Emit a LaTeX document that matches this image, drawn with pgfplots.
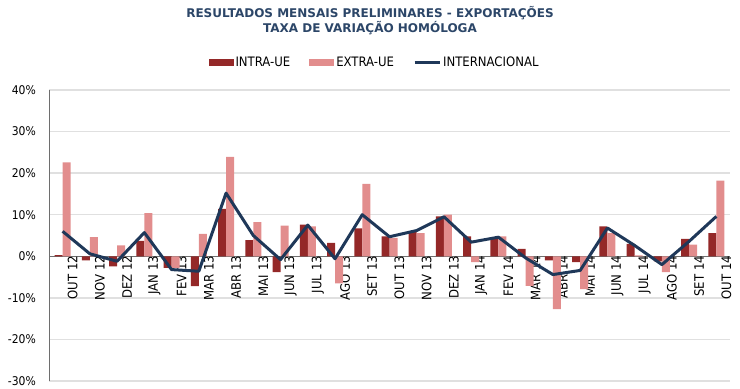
\documentclass[border=0pt]{standalone}
\usepackage{pgfplots}
\pgfplotsset{compat=1.18}
\usepackage{pgfplotstable}
\usepackage{fontspec}
\setmainfont{DejaVu Sans Condensed}
\newfontfamily\titlefont{DejaVu Sans}
\definecolor{intra}{RGB}{148,40,40}
\definecolor{extra}{RGB}{226,141,141}
\definecolor{navy}{RGB}{31,56,89}
\definecolor{titlec}{RGB}{44,70,104}
\definecolor{gridc}{RGB}{224,224,224}
\definecolor{axc}{RGB}{110,110,110}
\pgfplotsset{layers/mine/.define layer set={axis background,axis grid,pre main,main,axis ticks,axis lines,axis tick labels,axis descriptions,axis foreground}{}}
\pgfplotstableread{
x intra extra intl
0 0.3 22.6 6.0
1 -1.0 4.6 0.6
2 -2.4 2.6 -1.2
3 3.7 10.4 5.7
4 -2.8 -2.8 -3.2
5 -7.2 5.4 -3.6
6 11.4 23.9 15.2
7 3.9 8.2 5.0
8 -3.8 7.4 -0.8
9 7.6 7.2 7.5
10 3.2 -6.5 -0.6
11 6.7 17.4 10.0
12 4.8 4.4 4.7
13 6.0 5.6 6.2
14 9.6 10.0 9.5
15 4.8 -1.4 3.4
16 4.6 4.8 4.6
17 1.8 -7.1 -0.4
18 -1.0 -12.7 -4.4
19 -1.4 -7.9 -3.4
20 7.2 5.6 6.8
21 3.0 0.2 2.6
22 -1.2 -3.8 -2.0
23 4.2 2.8 3.6
24 5.6 18.2 9.6
}\data
\begin{document}
\begin{tikzpicture}
\path (0,0) rectangle (740bp,389bp);
\node[font=\titlefont\bfseries\fontsize{12bp}{15bp}\selectfont, text=titlec, align=center] at (370bp,368bp)
  {RESULTADOS MENSAIS PRELIMINARES - EXPORTAÇÕES\\TAXA DE VARIAÇÃO HOMÓLOGA};
\begin{axis}[
  set layers=mine,
  at={(49bp,8bp)}, anchor=south west,
  scale only axis, width=681bp, height=291bp,
  xmin=-0.5, xmax=24.5, ymin=-30, ymax=40,
  axis x line=middle, axis y line=left,
  axis line style={-, draw=axc, line width=0.9bp},
  major tick length=0pt,
  xtick={0,...,24},
  xticklabels={OUT 12,NOV 12,DEZ 12,JAN 13,FEV 13,MAR 13,ABR 13,MAI 13,JUN 13,JUL 13,AGO 13,SET 13,OUT 13,NOV 13,DEZ 13,JAN 14,FEV 14,MAR 14,ABR 14,MAI 14,JUN 14,JUL 14,AGO 14,SET 14,OUT 14},
  xticklabel style={rotate=90, anchor=east, font=\fontsize{13bp}{15bp}\selectfont, inner sep=0bp, xshift=0.5bp, yshift=-10bp},
  ytick={-30,-20,...,40},
  yticklabels={-30\%,-20\%,-10\%,0\%,10\%,20\%,30\%,40\%},
  yticklabel style={font=\fontsize{12bp}{14bp}\selectfont, inner sep=0bp, xshift=-13bp},
  ymajorgrids, grid style={gridc, line width=1.3bp},
  legend style={at={(axis description cs:0.478,1)}, anchor=south, yshift=20bp, draw=none, fill=none,
    font=\fontsize{13bp}{15bp}\selectfont, legend columns=3, inner sep=0bp,
    /tikz/every even column/.append style={column sep=17bp}},
  legend cell align=left,
  clip=false,
]
\addplot[ybar, bar width=8bp, bar shift=-4bp, fill=intra, draw=none,
  legend image code/.code={\fill[intra] (-2bp,-3.5bp) rectangle (23bp,3.5bp);}]
  table[x=x, y=intra]{\data};
\addlegendentry{INTRA-UE}
\addplot[ybar, bar width=8bp, bar shift=4bp, fill=extra, draw=none,
  legend image code/.code={\fill[extra] (-2bp,-3.5bp) rectangle (23bp,3.5bp);}]
  table[x=x, y=extra]{\data};
\addlegendentry{EXTRA-UE}
\addlegendimage{legend image code/.code={\draw[navy, line width=3bp] (-2bp,0bp) -- (23bp,0bp);}}
\addlegendentry{INTERNACIONAL}
\addplot[sharp plot, no marks, navy, line width=3bp, line join=round, on layer=axis foreground, forget plot]
  table[x=x, y=intl]{\data};
\end{axis}
\end{tikzpicture}
\end{document}
